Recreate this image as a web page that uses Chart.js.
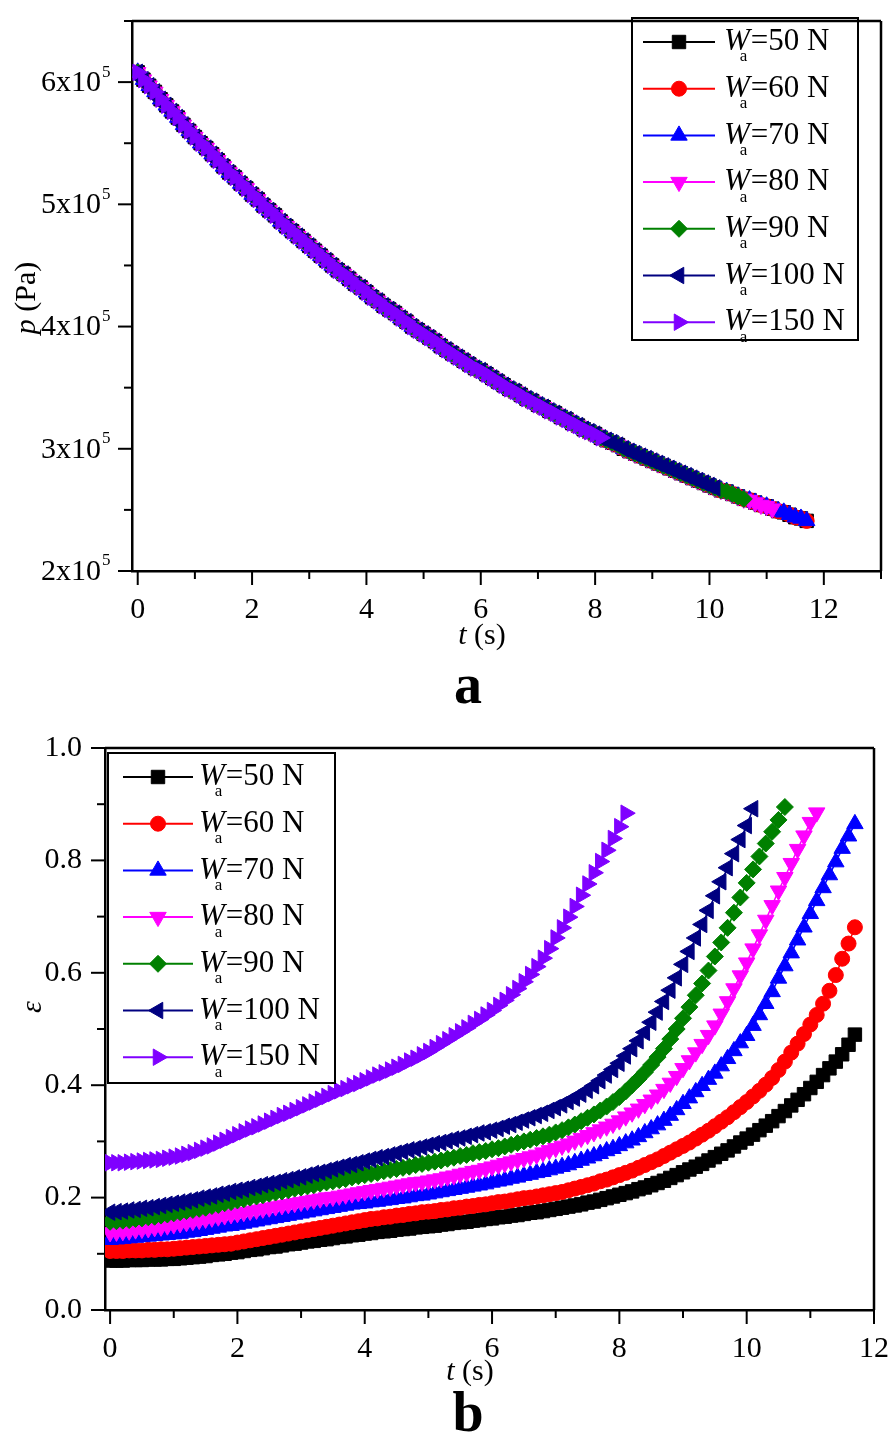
<!DOCTYPE html>
<html lang="en">
<head>
<meta charset="UTF-8">
<title>p and strain vs time</title>
<script src="https://cdn.jsdelivr.net/npm/chart.js@4.4.0/dist/chart.umd.min.js"></script>
<style>
    html, body { margin: 0; padding: 0; background: #fff; }
    body { width: 896px; height: 1434px; position: relative; overflow: hidden; }
    .box { position: absolute; left: 0; width: 896px; }
    #boxA { top: 0; height: 720px; }
    #boxB { top: 720px; height: 714px; }
</style>
</head>
<body>
<div class="box" id="boxA"><canvas id="chartA"></canvas></div>
<div class="box" id="boxB"><canvas id="chartB"></canvas></div>

<script>
// time (s), one sample every 0.1 s
const time = [
    0, 0.1, 0.2, 0.3, 0.4, 0.5, 0.6, 0.7, 0.8, 0.9,
    1, 1.1, 1.2, 1.3, 1.4, 1.5, 1.6, 1.7, 1.8, 1.9,
    2, 2.1, 2.2, 2.3, 2.4, 2.5, 2.6, 2.7, 2.8, 2.9,
    3, 3.1, 3.2, 3.3, 3.4, 3.5, 3.6, 3.7, 3.8, 3.9,
    4, 4.1, 4.2, 4.3, 4.4, 4.5, 4.6, 4.7, 4.8, 4.9,
    5, 5.1, 5.2, 5.3, 5.4, 5.5, 5.6, 5.7, 5.8, 5.9,
    6, 6.1, 6.2, 6.3, 6.4, 6.5, 6.6, 6.7, 6.8, 6.9,
    7, 7.1, 7.2, 7.3, 7.4, 7.5, 7.6, 7.7, 7.8, 7.9,
    8, 8.1, 8.2, 8.3, 8.4, 8.5, 8.6, 8.7, 8.8, 8.9,
    9, 9.1, 9.2, 9.3, 9.4, 9.5, 9.6, 9.7, 9.8, 9.9,
    10, 10.1, 10.2, 10.3, 10.4, 10.5, 10.6, 10.7, 10.8, 10.9,
    11, 11.1, 11.2, 11.3, 11.4, 11.5, 11.6, 11.7
];

const loads = ['50', '60', '70', '80', '90', '100', '150'];   // W_a in N
const endTime = [11.7, 11.7, 11.7, 11.1, 10.6, 10.1, 8.1];   // last sample of each run

// pressure in units of 10^5 Pa (all runs lie on the same curve)
const pressure = [
    6.08, 6.02, 5.97, 5.92, 5.86, 5.81, 5.76, 5.71, 5.65, 5.60,
    5.55, 5.50, 5.46, 5.41, 5.36, 5.31, 5.26, 5.22, 5.17, 5.13,
    5.08, 5.04, 4.99, 4.95, 4.91, 4.86, 4.82, 4.78, 4.74, 4.70,
    4.66, 4.62, 4.58, 4.54, 4.50, 4.46, 4.43, 4.39, 4.35, 4.32,
    4.28, 4.24, 4.21, 4.17, 4.14, 4.11, 4.07, 4.04, 4.00, 3.97,
    3.94, 3.91, 3.88, 3.84, 3.81, 3.78, 3.75, 3.72, 3.69, 3.66,
    3.64, 3.61, 3.58, 3.55, 3.52, 3.49, 3.47, 3.44, 3.41, 3.39,
    3.36, 3.34, 3.31, 3.29, 3.26, 3.24, 3.21, 3.19, 3.16, 3.14,
    3.12, 3.09, 3.07, 3.05, 3.03, 3.00, 2.98, 2.96, 2.94, 2.92,
    2.90, 2.88, 2.86, 2.84, 2.82, 2.80, 2.78, 2.76, 2.74, 2.72,
    2.70, 2.68, 2.66, 2.65, 2.63, 2.61, 2.59, 2.58, 2.56, 2.54,
    2.53, 2.51, 2.49, 2.48, 2.46, 2.44, 2.43, 2.41
];

// strain epsilon for each load
const strain50 = [
    0.088, 0.088, 0.088, 0.089, 0.089, 0.089, 0.090, 0.090, 0.090, 0.091,
    0.091, 0.092, 0.093, 0.094, 0.095, 0.096, 0.098, 0.099, 0.100, 0.102,
    0.103, 0.105, 0.107, 0.108, 0.110, 0.112, 0.113, 0.115, 0.117, 0.118,
    0.120, 0.122, 0.123, 0.125, 0.126, 0.128, 0.130, 0.131, 0.133, 0.134,
    0.136, 0.137, 0.139, 0.140, 0.141, 0.143, 0.144, 0.145, 0.147, 0.148,
    0.149, 0.150, 0.152, 0.153, 0.155, 0.156, 0.157, 0.159, 0.160, 0.162,
    0.163, 0.165, 0.166, 0.168, 0.169, 0.171, 0.173, 0.174, 0.176, 0.178,
    0.180, 0.182, 0.184, 0.186, 0.188, 0.191, 0.193, 0.196, 0.199, 0.202,
    0.205, 0.208, 0.211, 0.215, 0.218, 0.222, 0.226, 0.230, 0.235, 0.240,
    0.245, 0.250, 0.255, 0.260, 0.266, 0.272, 0.278, 0.284, 0.291, 0.298,
    0.305, 0.312, 0.320, 0.328, 0.336, 0.345, 0.354, 0.364, 0.374, 0.384,
    0.395, 0.406, 0.418, 0.430, 0.442, 0.455, 0.472, 0.490
];
const strain60 = [
    0.105, 0.105, 0.105, 0.106, 0.106, 0.106, 0.107, 0.107, 0.108, 0.108,
    0.109, 0.110, 0.111, 0.112, 0.113, 0.114, 0.115, 0.116, 0.117, 0.118,
    0.120, 0.122, 0.124, 0.126, 0.128, 0.130, 0.132, 0.134, 0.136, 0.138,
    0.140, 0.142, 0.144, 0.146, 0.148, 0.150, 0.152, 0.154, 0.156, 0.158,
    0.160, 0.162, 0.163, 0.165, 0.166, 0.168, 0.169, 0.171, 0.172, 0.174,
    0.175, 0.176, 0.178, 0.179, 0.181, 0.182, 0.184, 0.185, 0.187, 0.188,
    0.190, 0.192, 0.193, 0.195, 0.197, 0.199, 0.200, 0.202, 0.204, 0.206,
    0.208, 0.210, 0.213, 0.216, 0.219, 0.222, 0.225, 0.229, 0.232, 0.236,
    0.240, 0.244, 0.248, 0.253, 0.258, 0.263, 0.268, 0.274, 0.280, 0.286,
    0.292, 0.298, 0.305, 0.312, 0.319, 0.327, 0.335, 0.343, 0.352, 0.361,
    0.370, 0.380, 0.390, 0.401, 0.413, 0.427, 0.442, 0.458, 0.474, 0.491,
    0.508, 0.525, 0.545, 0.568, 0.596, 0.625, 0.652, 0.681
];
const strain70 = [
    0.125, 0.126, 0.127, 0.128, 0.129, 0.130, 0.131, 0.132, 0.133, 0.134,
    0.135, 0.136, 0.138, 0.139, 0.141, 0.143, 0.145, 0.147, 0.149, 0.150,
    0.152, 0.154, 0.156, 0.158, 0.160, 0.162, 0.164, 0.166, 0.168, 0.170,
    0.172, 0.174, 0.176, 0.178, 0.180, 0.182, 0.184, 0.186, 0.188, 0.189,
    0.190, 0.192, 0.193, 0.195, 0.196, 0.198, 0.199, 0.201, 0.203, 0.204,
    0.206, 0.208, 0.210, 0.212, 0.214, 0.216, 0.218, 0.220, 0.222, 0.224,
    0.227, 0.229, 0.231, 0.234, 0.236, 0.239, 0.241, 0.244, 0.246, 0.249,
    0.252, 0.255, 0.258, 0.262, 0.266, 0.270, 0.274, 0.278, 0.283, 0.287,
    0.292, 0.297, 0.302, 0.308, 0.315, 0.322, 0.329, 0.337, 0.346, 0.356,
    0.367, 0.377, 0.388, 0.399, 0.410, 0.421, 0.434, 0.447, 0.461, 0.475,
    0.488, 0.506, 0.525, 0.545, 0.566, 0.590, 0.612, 0.635, 0.658, 0.681,
    0.705, 0.728, 0.751, 0.774, 0.797, 0.821, 0.843, 0.865
];
const strain80 = [
    0.138, 0.139, 0.140, 0.141, 0.143, 0.144, 0.145, 0.147, 0.148, 0.150,
    0.152, 0.154, 0.156, 0.158, 0.160, 0.162, 0.164, 0.166, 0.168, 0.170,
    0.172, 0.174, 0.176, 0.178, 0.180, 0.182, 0.184, 0.186, 0.188, 0.190,
    0.192, 0.194, 0.196, 0.198, 0.200, 0.201, 0.203, 0.205, 0.207, 0.209,
    0.211, 0.213, 0.215, 0.217, 0.219, 0.221, 0.223, 0.225, 0.227, 0.228,
    0.230, 0.232, 0.234, 0.237, 0.239, 0.242, 0.244, 0.247, 0.249, 0.252,
    0.255, 0.258, 0.261, 0.264, 0.267, 0.270, 0.273, 0.276, 0.280, 0.284,
    0.288, 0.292, 0.296, 0.301, 0.306, 0.311, 0.316, 0.321, 0.326, 0.331,
    0.337, 0.344, 0.351, 0.358, 0.366, 0.374, 0.383, 0.393, 0.404, 0.416,
    0.430, 0.444, 0.458, 0.473, 0.489, 0.506, 0.527, 0.549, 0.572, 0.595,
    0.618, 0.643, 0.668, 0.694, 0.720, 0.746, 0.770, 0.795, 0.820, 0.844,
    0.868, 0.885
];
const strain90 = [
    0.157, 0.158, 0.159, 0.160, 0.162, 0.163, 0.165, 0.166, 0.168, 0.170,
    0.172, 0.174, 0.176, 0.178, 0.180, 0.182, 0.185, 0.187, 0.190, 0.192,
    0.195, 0.197, 0.200, 0.202, 0.204, 0.207, 0.209, 0.211, 0.213, 0.216,
    0.218, 0.220, 0.222, 0.225, 0.227, 0.229, 0.231, 0.233, 0.236, 0.238,
    0.240, 0.242, 0.244, 0.247, 0.249, 0.251, 0.253, 0.255, 0.258, 0.260,
    0.262, 0.264, 0.266, 0.269, 0.271, 0.274, 0.276, 0.279, 0.281, 0.283,
    0.286, 0.288, 0.291, 0.294, 0.297, 0.300, 0.303, 0.306, 0.309, 0.312,
    0.316, 0.320, 0.325, 0.330, 0.336, 0.342, 0.348, 0.355, 0.362, 0.370,
    0.379, 0.389, 0.400, 0.411, 0.423, 0.436, 0.450, 0.465, 0.482, 0.500,
    0.519, 0.539, 0.560, 0.581, 0.604, 0.629, 0.654, 0.680, 0.707, 0.734,
    0.760, 0.784, 0.807, 0.830, 0.851, 0.872, 0.895
];
const strain100 = [
    0.174, 0.175, 0.176, 0.178, 0.179, 0.181, 0.182, 0.184, 0.186, 0.188,
    0.190, 0.192, 0.194, 0.196, 0.199, 0.201, 0.203, 0.206, 0.208, 0.211,
    0.213, 0.215, 0.218, 0.220, 0.223, 0.225, 0.227, 0.230, 0.232, 0.235,
    0.237, 0.240, 0.243, 0.245, 0.248, 0.251, 0.254, 0.257, 0.259, 0.262,
    0.265, 0.268, 0.271, 0.273, 0.276, 0.279, 0.282, 0.285, 0.287, 0.290,
    0.293, 0.296, 0.298, 0.301, 0.304, 0.306, 0.309, 0.312, 0.315, 0.317,
    0.320, 0.323, 0.327, 0.330, 0.334, 0.338, 0.342, 0.346, 0.350, 0.355,
    0.360, 0.365, 0.371, 0.377, 0.384, 0.391, 0.399, 0.408, 0.418, 0.428,
    0.439, 0.452, 0.465, 0.479, 0.494, 0.512, 0.530, 0.549, 0.569, 0.591,
    0.615, 0.638, 0.662, 0.686, 0.711, 0.737, 0.762, 0.787, 0.812, 0.837,
    0.862, 0.892
];
const strain150 = [
    0.262, 0.262, 0.262, 0.263, 0.264, 0.265, 0.266, 0.267, 0.268, 0.270,
    0.272, 0.274, 0.277, 0.280, 0.284, 0.288, 0.292, 0.297, 0.302, 0.307,
    0.312, 0.317, 0.322, 0.326, 0.331, 0.336, 0.341, 0.346, 0.350, 0.355,
    0.360, 0.365, 0.370, 0.375, 0.380, 0.385, 0.390, 0.394, 0.399, 0.403,
    0.408, 0.413, 0.418, 0.422, 0.427, 0.432, 0.437, 0.443, 0.448, 0.454,
    0.460, 0.467, 0.474, 0.481, 0.488, 0.495, 0.502, 0.510, 0.517, 0.525,
    0.533, 0.542, 0.551, 0.561, 0.572, 0.584, 0.597, 0.611, 0.626, 0.643,
    0.662, 0.680, 0.699, 0.718, 0.738, 0.758, 0.778, 0.798, 0.818, 0.839,
    0.860, 0.884
];
const strains = [strain50, strain60, strain70, strain80, strain90, strain100, strain150];

const pTickLabels = [2, 3, 4, 5, 6];           // shown as "n x 10^5"
const timeTickLabels = [0, 2, 4, 6, 8, 10, 12];
const strainTickLabels = [0, 0.2, 0.4, 0.6, 0.8, 1.0];

// look
const colors = ['#000000', '#FF0000', '#0000FF', '#FF00FF', '#008000', '#000080', '#7F00FF'];
const styles = ['rect', 'circle', 'triangle', 'triangle', 'rectRot', 'triangle', 'triangle'];
const rotations = [0, 0, 0, 180, 0, 270, 90];
const radii = { rect: 9.5, circle: 7.5, triangle: 9.5, rectRot: 8.5 };
const SERIF = '"Liberation Serif", "Times New Roman", serif';

Chart.defaults.font.family = SERIF;
Chart.defaults.font.size = 30;
Chart.defaults.color = '#000';

function makeDataset(i, points) {
    return {
        label: 'Wa=' + loads[i] + ' N',
        data: points,
        borderColor: colors[i],
        backgroundColor: colors[i],
        borderWidth: 1.5,
        pointStyle: styles[i],
        rotation: rotations[i],
        pointRadius: radii[styles[i]],
        pointBorderWidth: 1,
        showLine: true,
        order: loads.length - 1 - i
    };
}

const datasetsA = loads.map((w, i) => makeDataset(i,
    time.map((t, k) => ({ x: t, y: pressure[k] })).filter(p => p.x <= endTime[i] + 1e-9)));
const datasetsB = loads.map((w, i) => makeDataset(i,
    strains[i].map((v, k) => ({ x: time[k], y: v }))));

// ---- drawing helpers ----
function keepInRange(scale) {
    scale.ticks = scale.ticks.filter(t => t.value >= scale.min - 1e-9 && t.value <= scale.max + 1e-9);
}

function line(ctx, x0, y0, x1, y1) {
    ctx.beginPath(); ctx.moveTo(x0, y0); ctx.lineTo(x1, y1); ctx.stroke();
}

function drawFrameAndTicks(chart, isMajorX, isMajorY) {
    const ctx = chart.ctx, a = chart.chartArea, sx = chart.scales.x, sy = chart.scales.y;
    ctx.save();
    ctx.strokeStyle = '#000';
    ctx.lineWidth = 2.5;
    line(ctx, a.left, a.top, a.right, a.top);
    line(ctx, a.right, a.top, a.right, a.bottom);
    ctx.lineWidth = 2;
    sx.ticks.forEach(t => {
        const px = sx.getPixelForValue(t.value);
        line(ctx, px, a.bottom, px, a.bottom + (isMajorX(t.value) ? 14 : 8));
    });
    sy.ticks.forEach(t => {
        const py = sy.getPixelForValue(t.value);
        line(ctx, a.left, py, a.left - (isMajorY(t.value) ? 14 : 8), py);
    });
    ctx.restore();
}

// draws a row of text pieces centred on (cx, cy)
function drawParts(ctx, parts, cx, cy) {
    let total = 0;
    parts.forEach(p => { ctx.font = p.font; total += ctx.measureText(p.text).width; });
    let x = cx - total / 2;
    ctx.textBaseline = 'middle';
    ctx.textAlign = 'left';
    parts.forEach(p => { ctx.font = p.font; ctx.fillText(p.text, x, cy); x += ctx.measureText(p.text).width; });
}

function drawLegend(ctx, L) {
    ctx.save();
    ctx.strokeStyle = '#000';
    ctx.lineWidth = 2;
    ctx.strokeRect(L.left, L.top, L.right - L.left, L.bottom - L.top);
    loads.forEach((w, i) => {
        const y = L.firstRow + i * L.rowGap;
        ctx.strokeStyle = colors[i];
        ctx.fillStyle = colors[i];
        ctx.lineWidth = 2;
        line(ctx, L.lineX0, y, L.lineX1, y);
        ctx.lineWidth = 1;
        Chart.helpers.drawPoint(ctx, {
            pointStyle: styles[i], rotation: rotations[i],
            radius: radii[styles[i]], borderWidth: 1
        }, (L.lineX0 + L.lineX1) / 2, y);
        ctx.fillStyle = '#000';
        ctx.textBaseline = 'middle';
        ctx.textAlign = 'left';
        ctx.font = 'italic 31px ' + SERIF;
        ctx.fillText('W', L.textX, y);
        const ww = ctx.measureText('W').width;
        ctx.font = '17px ' + SERIF;
        ctx.fillText('a', L.textX + ww - 10, y + 15);
        ctx.font = '31px ' + SERIF;
        ctx.fillText('=' + w + ' N', L.textX + ww + 1, y);
    });
    ctx.restore();
}

const isEvenInt = v => Math.abs(v - Math.round(v)) < 1e-6 && Math.round(v) % 2 === 0;
const isInt = v => Math.abs(v - Math.round(v)) < 1e-6;
const isEvenTenth = v => Math.round(v * 10) % 2 === 0;

const decorA = {
    id: 'decorA',
    afterDraw(chart) {
        const ctx = chart.ctx, sy = chart.scales.y;
        drawFrameAndTicks(chart, isEvenInt, isInt);
        ctx.save();
        ctx.fillStyle = '#000';
        pTickLabels.forEach(v => {
            const py = sy.getPixelForValue(v);
            ctx.textBaseline = 'middle';
            ctx.textAlign = 'right';
            ctx.font = '30px ' + SERIF;
            ctx.fillText(v + 'x10', 101, py + 1);
            ctx.textAlign = 'left';
            ctx.font = '17px ' + SERIF;
            ctx.fillText('5', 102, py - 10);
        });
        drawParts(ctx, [{ text: 't', font: 'italic 30px ' + SERIF }, { text: ' (s)', font: '30px ' + SERIF }], 482, 636);
        ctx.save();
        ctx.translate(27, 298);
        ctx.rotate(-Math.PI / 2);
        drawParts(ctx, [{ text: 'p', font: 'italic 30px ' + SERIF }, { text: ' (Pa)', font: '30px ' + SERIF }], 0, 0);
        ctx.restore();
        ctx.font = 'bold 56px ' + SERIF;
        ctx.textAlign = 'center';
        ctx.textBaseline = 'alphabetic';
        ctx.fillText('a', 468, 703);
        ctx.restore();
        drawLegend(ctx, { left: 632, right: 858, top: 18, bottom: 340, firstRow: 42, rowGap: 46.7, lineX0: 643, lineX1: 715, textX: 724 });
    }
};

const decorB = {
    id: 'decorB',
    afterDraw(chart) {
        const ctx = chart.ctx;
        drawFrameAndTicks(chart, isEvenInt, isEvenTenth);
        ctx.save();
        ctx.fillStyle = '#000';
        drawParts(ctx, [{ text: 't', font: 'italic 30px ' + SERIF }, { text: ' (s)', font: '30px ' + SERIF }], 470, 652);
        ctx.save();
        ctx.translate(33, 287);
        ctx.rotate(-Math.PI / 2);
        drawParts(ctx, [{ text: 'ε', font: 'italic 30px ' + SERIF }], 0, 0);
        ctx.restore();
        ctx.font = 'bold 56px ' + SERIF;
        ctx.textAlign = 'center';
        ctx.textBaseline = 'alphabetic';
        ctx.fillText('b', 468, 711);
        ctx.restore();
        drawLegend(ctx, { left: 108, right: 335, top: 33, bottom: 363, firstRow: 57, rowGap: 46.7, lineX0: 123, lineX1: 193, textX: 199 });
    }
};

function axisX(min, max, height, pad) {
    return {
        type: 'linear', min: min, max: max,
        ticks: {
            stepSize: 1, includeBounds: false, autoSkip: false, maxRotation: 0, padding: pad,
            callback: v => timeTickLabels.includes(Math.round(v)) && isEvenInt(v) ? String(Math.round(v)) : ''
        },
        grid: { drawOnChartArea: false, drawTicks: true, tickLength: 14, tickColor: 'rgba(0,0,0,0)' },
        border: { display: true, color: '#000', width: 2.5 },
        afterBuildTicks: keepInRange,
        afterFit: s => { s.height = height; }
    };
}

const common = {
    responsive: true,
    maintainAspectRatio: false,
    animation: false,
    events: [],
    plugins: { legend: { display: false }, tooltip: { enabled: false } }
};

new Chart(document.getElementById('chartA'), {
    type: 'scatter',
    data: { datasets: datasetsA },
    options: Object.assign({}, common, {
        layout: { autoPadding: false, padding: { left: 0, right: 15, top: 10, bottom: 0 } },
        scales: {
            x: axisX(-0.1, 13, 149, 7),
            y: {
                type: 'linear', min: 2, max: 6.5,
                ticks: { stepSize: 0.5, includeBounds: false, autoSkip: false, callback: () => '' },
                grid: { drawOnChartArea: false, drawTicks: true, tickLength: 14, tickColor: 'rgba(0,0,0,0)' },
                border: { display: true, color: '#000', width: 2.5 },
                afterBuildTicks: keepInRange,
                afterFit: s => { s.width = 132; }
            }
        }
    }),
    plugins: [decorA]
});

new Chart(document.getElementById('chartB'), {
    type: 'scatter',
    data: { datasets: datasetsB },
    options: Object.assign({}, common, {
        layout: { autoPadding: false, padding: { left: 0, right: 16, top: 28, bottom: 0 } },
        scales: {
            x: axisX(-0.08, 12, 124, 7),
            y: {
                type: 'linear', min: 0, max: 1.0,
                ticks: {
                    stepSize: 0.1, includeBounds: false, autoSkip: false, padding: 9,
                    callback: v => isEvenTenth(v) && strainTickLabels.some(s => Math.abs(s - v) < 1e-6) ? v.toFixed(1) : ''
                },
                grid: { drawOnChartArea: false, drawTicks: true, tickLength: 14, tickColor: 'rgba(0,0,0,0)' },
                border: { display: true, color: '#000', width: 2.5 },
                afterBuildTicks: keepInRange,
                afterFit: s => { s.width = 105; }
            }
        }
    }),
    plugins: [decorB]
});
</script>
</body>
</html>
